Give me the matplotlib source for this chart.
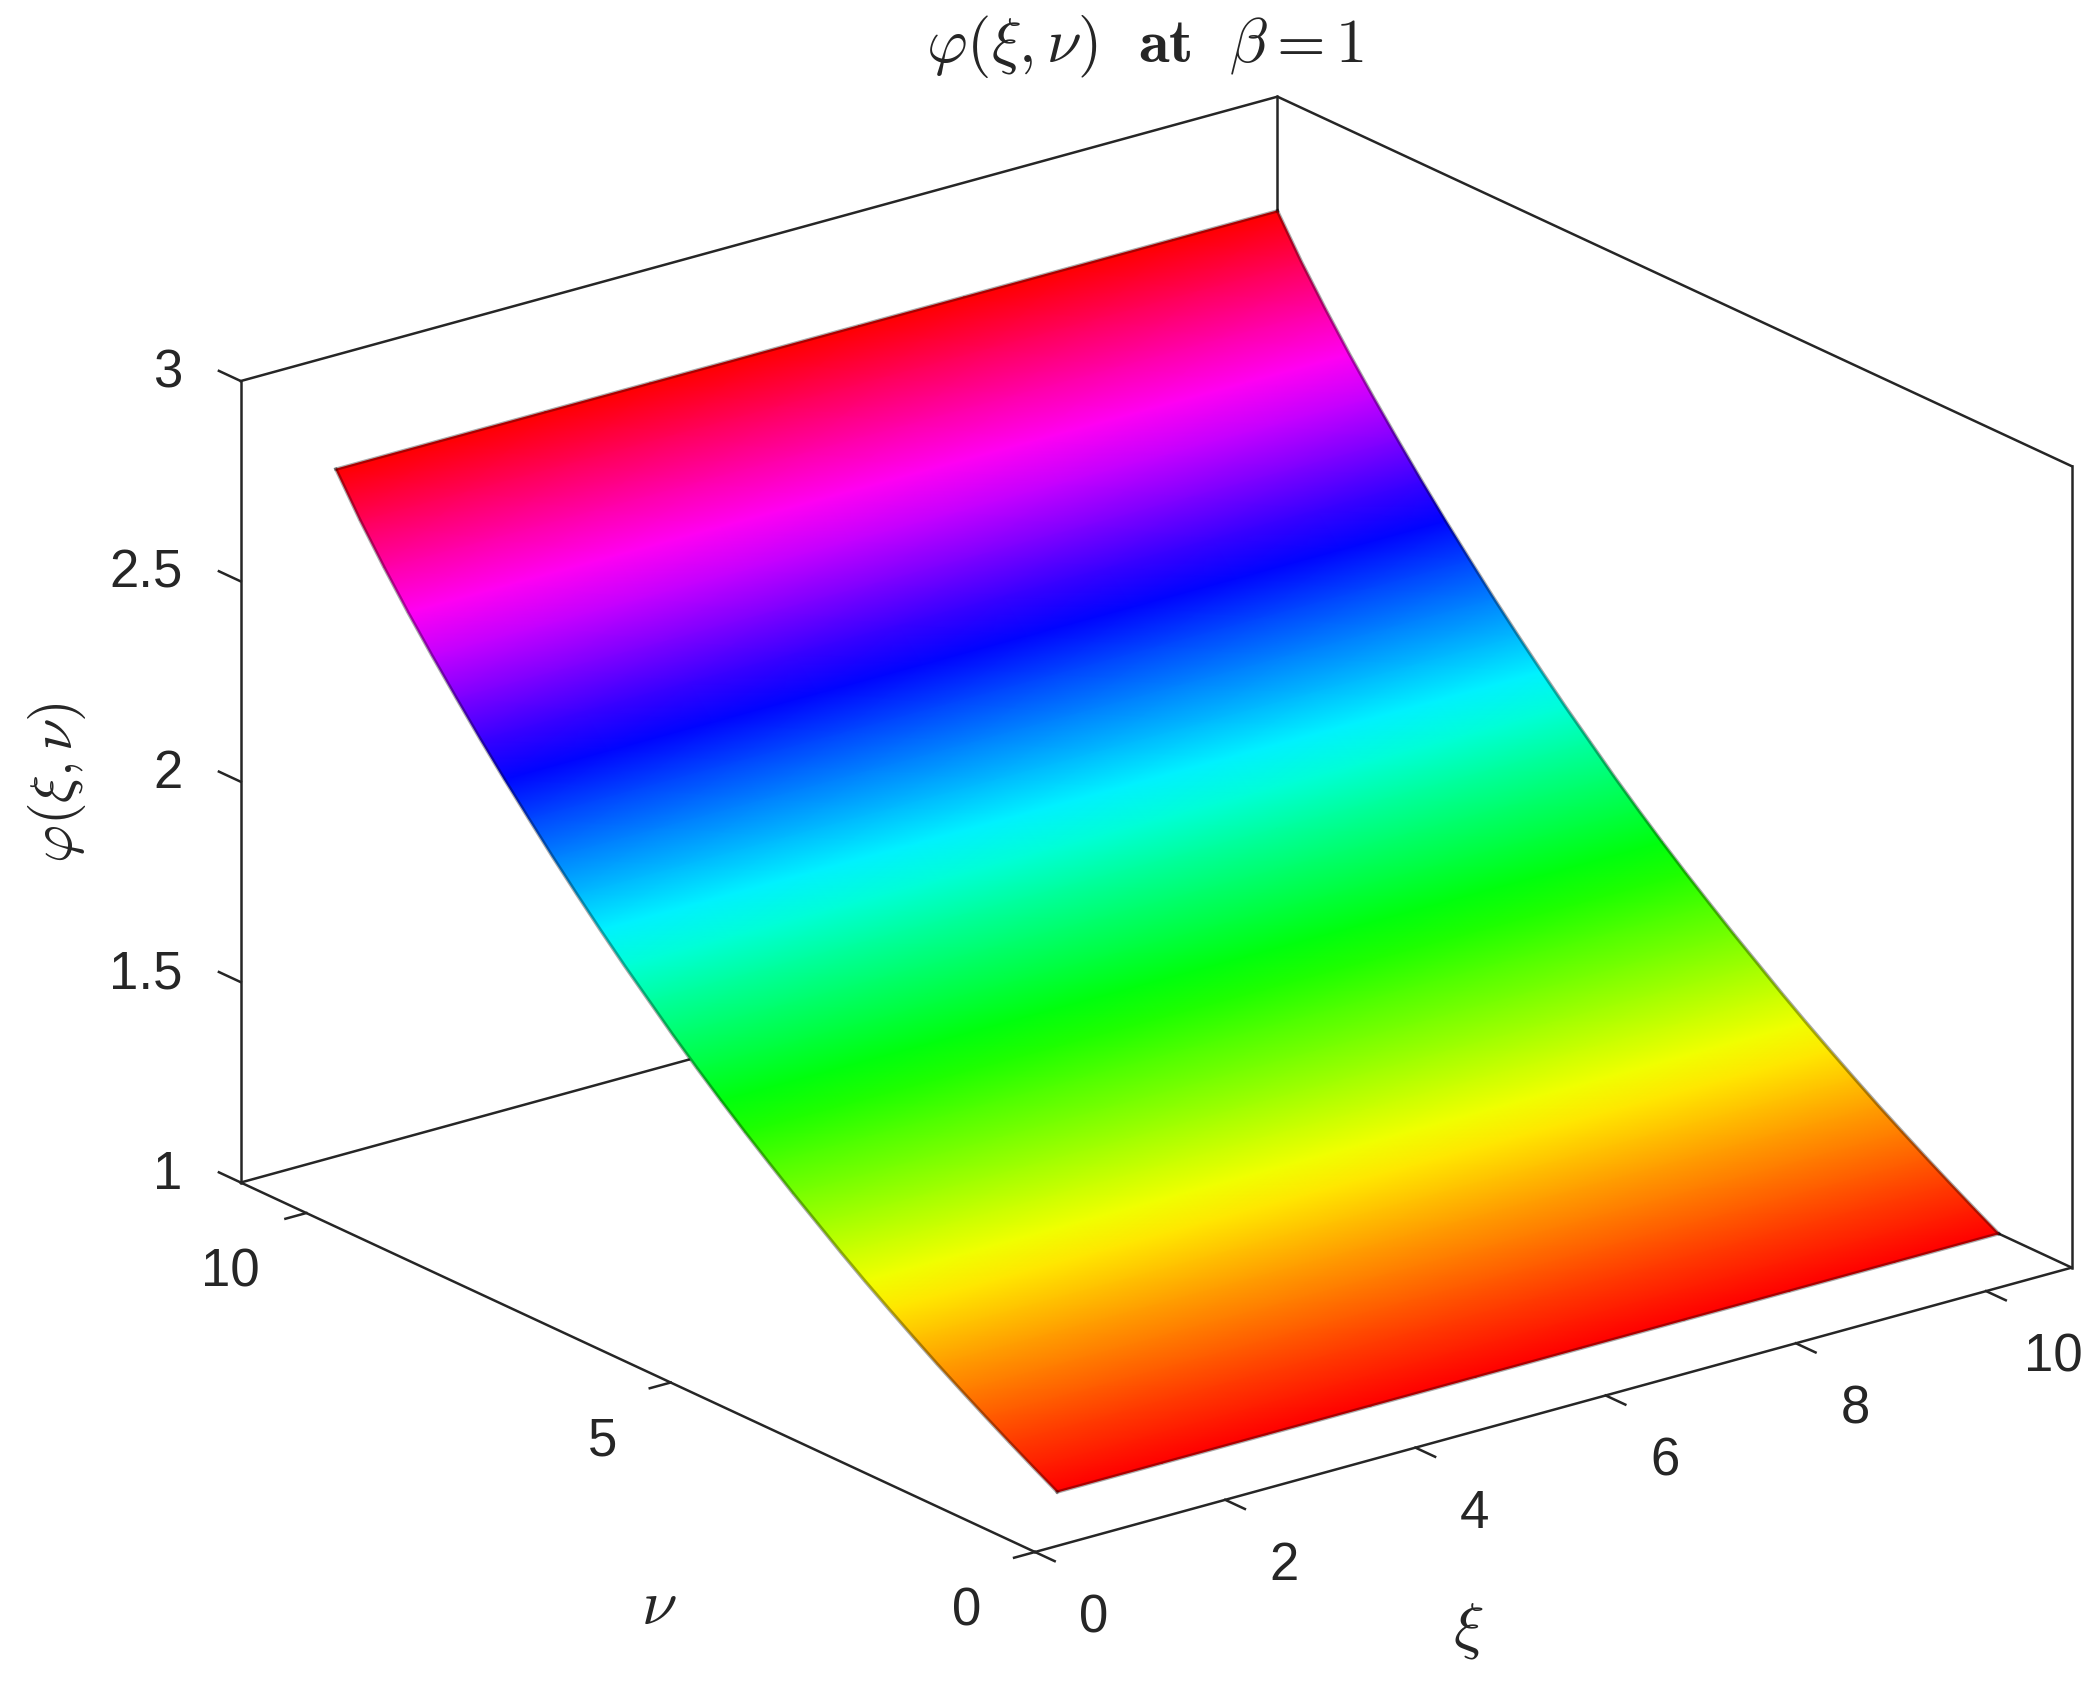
import numpy as np
import matplotlib
matplotlib.use("Agg")
import matplotlib.pyplot as plt
from matplotlib.colors import LinearSegmentedColormap, Normalize
from mpl_toolkits.mplot3d import proj3d

# ---- values ----
xi_ticks = [0, 2, 4, 6, 8, 10]
nu_ticks = [0, 5, 10]
phi_ticks = [1, 1.5, 2, 2.5, 3]
phi_tick_labels = ["1", "1.5", "2", "2.5", "3"]
xi_limits = [0, 10.9]
nu_limits = [0, 10.9]
phi_limits = [1, 3]
xi_values = [1.0, 2.1, 3.2, 4.3, 5.4, 6.5, 7.6, 8.7, 9.8, 10.9]
nu_values = [1.00, 1.33, 1.66, 1.99, 2.32, 2.65, 2.98, 3.31, 3.64, 3.97, 4.30,
             4.63, 4.96, 5.29, 5.62, 5.95, 6.28, 6.61, 6.94, 7.27, 7.60,
             7.93, 8.26, 8.59, 8.92, 9.25, 9.58, 9.91, 10.24, 10.57, 10.90]
phi_values = [1.000, 1.034, 1.069, 1.105, 1.142, 1.180, 1.220, 1.261, 1.303, 1.347, 1.393,
              1.439, 1.487, 1.536, 1.587, 1.640, 1.695, 1.753, 1.811, 1.872, 1.935,
              2.000, 2.068, 2.137, 2.209, 2.284, 2.361, 2.441, 2.526, 2.616, 2.715]

# ---- style / layout ----
W, H = 2100, 1685
INK = "#262626"
LW = 1.8
plt.rcParams["font.family"] = ["Liberation Sans", "DejaVu Sans"]
plt.rcParams["mathtext.fontset"] = "cm"

fig = plt.figure(figsize=(W / 100, H / 100), dpi=100, facecolor="white")
pos = [0, (H - W) / 2 / H, 1, W / H]
ax = fig.add_axes(pos, projection="3d", computed_zorder=False)
ax.set_axis_off()
ax.set_proj_type("ortho")
ax.view_init(elev=20.93, azim=-127.52)
ax.set_xlim(*xi_limits)
ax.set_ylim(*nu_limits)
ax.set_zlim(*phi_limits)
aspect = (1310, 1307, 860)
ax.set_box_aspect(aspect)


def screen(x, y, z):
    xs, ys, _ = proj3d.proj_transform(x, y, z, ax.get_proj())
    return ax.transData.transform((xs, ys))


# fit the box on the figure: front floor corner and xi-edge length
fig.canvas.draw()
p0, p1 = screen(xi_limits[0], nu_limits[0], 1), screen(xi_limits[1], nu_limits[0], 1)
ax.set_box_aspect(aspect, zoom=1075.0 / np.hypot(*(p1 - p0)))
fig.canvas.draw()
p0 = screen(xi_limits[0], nu_limits[0], 1)
dx, dy = 1035 - p0[0], (H - 1552) - p0[1]
ax.set_position([pos[0] + dx / W, pos[1] + dy / H, pos[2], pos[3]])
fig.canvas.draw()

x0, x1 = xi_limits
y0, y1 = nu_limits
z0, z1 = phi_limits


def seg(a, b, zo):
    ax.plot([a[0], b[0]], [a[1], b[1]], [a[2], b[2]], color=INK, lw=LW,
            zorder=zo, clip_on=False, solid_capstyle="projecting")


# back box edges, behind the surface
for a, b in [((x0, y1, z0), (x1, y1, z0)), ((x1, y0, z0), (x1, y1, z0)),
             ((x0, y1, z0), (x0, y1, z1)), ((x1, y0, z0), (x1, y0, z1)),
             ((x1, y1, z0), (x1, y1, z1)), ((x0, y1, z1), (x1, y1, z1)),
             ((x1, y0, z1), (x1, y1, z1))]:
    seg(a, b, 1)

# surface, smoothly shaded between the grid points
hsv = LinearSegmentedColormap.from_list(
    "matlab_hsv",
    ["#ff0000", "#ffff00", "#00ff00", "#00ffff", "#0000ff", "#ff00ff", "#ff0000"],
    N=512,
)
XI, NU = np.meshgrid(xi_values, nu_values)
PHI = np.tile(np.array(phi_values)[:, None], (1, len(xi_values)))
sx, sy, _ = proj3d.proj_transform(XI.ravel(), NU.ravel(), PHI.ravel(), ax.get_proj())
mesh = ax.pcolormesh(np.reshape(sx, XI.shape), np.reshape(sy, XI.shape), PHI,
                     shading="gouraud", cmap=hsv, norm=Normalize(1.0, 2.715),
                     zorder=2, clip_on=False)
mesh.do_3d_projection = lambda: 0  # already projected

# soft darker rim of the surface
for xs, ys, zs in [
    (XI[0], NU[0], PHI[0]), (XI[-1], NU[-1], PHI[-1]),
    (XI[:, 0], NU[:, 0], PHI[:, 0]), (XI[:, -1], NU[:, -1], PHI[:, -1]),
]:
    ax.plot(xs, ys, zs, color="black", alpha=0.33, lw=2.5, zorder=3, clip_on=False)

# front floor edges
seg((x0, y0, z0), (x1, y0, z0), 4)
seg((x0, y0, z0), (x0, y1, z0), 4)

# ticks and their labels
TICK_FS = 38
label_kw = dict(xycoords="data", textcoords="offset pixels", fontsize=TICK_FS,
                color=INK, annotation_clip=False)


def label(text, x, y, z, off, **kw):
    xs, ys, _ = proj3d.proj_transform(x, y, z, ax.get_proj())
    ax.annotate(text, xy=(xs, ys), xytext=off, **label_kw, **kw)


for t in xi_ticks:
    seg((t, y0, z0), (t, y0 - 0.27, z0), 4)
    label(str(t), t, y0, z0, (59 + 8 * (t == 10), -66), ha="center", va="center")
for t in nu_ticks:
    seg((x0, t, z0), (x0 - 0.22, t, z0), 4)
    label(str(t), x0, t, z0, (-68 - 8 * (t == 10), -59), ha="center", va="center")
for t, s in zip(phi_ticks, phi_tick_labels):
    seg((x0, y1, t), (x0, y1 + 0.3, t), 4)
    label(s, x0, y1, t, (-58, 8), ha="right", va="center")

# axis titles and chart title
fig.text(659 / W, 1 - 1607 / H, r"$\nu$", fontsize=46, color=INK, ha="center", va="center")
fig.text(1468 / W, 1 - 1631 / H, r"$\xi$", fontsize=46, color=INK, ha="center", va="center")
fig.text(57 / W, 1 - 783 / H, r"$\varphi(\xi,\nu)$", fontsize=42, color=INK,
         rotation=90, ha="center", va="center")
fig.text(1145 / W, 1 - 47 / H, r"$\varphi(\xi,\nu)\ \ \mathbf{at}\ \ \beta = 1$",
         fontsize=45, color=INK, ha="center", va="center")

fig.savefig("out.png", dpi=100, facecolor="white")
